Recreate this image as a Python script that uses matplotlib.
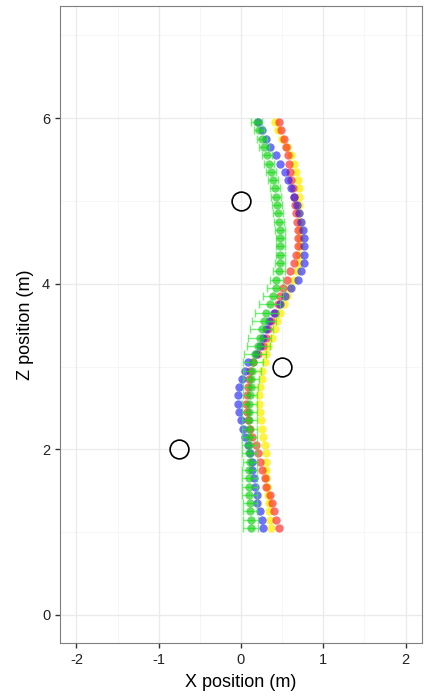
import matplotlib
matplotlib.use("Agg")
import matplotlib.pyplot as plt
import numpy as np

# ── Data ──
z_pos = [1.05, 1.15, 1.25, 1.35, 1.45, 1.55, 1.65, 1.75, 1.85, 1.95,
         2.05, 2.15, 2.25, 2.35, 2.45, 2.55, 2.65, 2.75, 2.85, 2.95,
         3.05, 3.15, 3.25, 3.35, 3.45, 3.55, 3.65, 3.75, 3.85, 3.95,
         4.05, 4.15, 4.25, 4.35, 4.45, 4.55, 4.65, 4.75, 4.85, 4.95,
         5.05, 5.15, 5.25, 5.35, 5.45, 5.55, 5.65, 5.75, 5.85, 5.95]

x_green = [0.12, 0.12, 0.11, 0.11, 0.10, 0.10, 0.10, 0.10, 0.11, 0.10,
           0.10, 0.10, 0.10, 0.10, 0.10, 0.10, 0.11, 0.12, 0.12, 0.13,
           0.15, 0.17, 0.21, 0.23, 0.25, 0.28, 0.31, 0.35, 0.39, 0.42,
           0.43, 0.46, 0.47, 0.48, 0.48, 0.48, 0.47, 0.46, 0.45, 0.44,
           0.43, 0.41, 0.39, 0.36, 0.34, 0.32, 0.28, 0.26, 0.22, 0.19]
err_green = [0.09, 0.09, 0.09, 0.09, 0.09, 0.09, 0.09, 0.09, 0.09, 0.09,
             0.09, 0.09, 0.09, 0.09, 0.09, 0.09, 0.09, 0.09, 0.10, 0.11,
             0.12, 0.13, 0.14, 0.14, 0.14, 0.14, 0.14, 0.13, 0.12, 0.10,
             0.08, 0.07, 0.06, 0.06, 0.06, 0.06, 0.06, 0.06, 0.06, 0.06,
             0.06, 0.06, 0.06, 0.06, 0.06, 0.06, 0.06, 0.06, 0.06, 0.07]
x_blue = [0.27, 0.25, 0.23, 0.20, 0.19, 0.17, 0.16, 0.14, 0.13, 0.11,
          0.08, 0.05, 0.02, 0.00, -0.02, -0.04, -0.04, -0.02, 0.01, 0.05,
          0.09, 0.18, 0.23, 0.27, 0.30, 0.34, 0.40, 0.47, 0.54, 0.61,
          0.69, 0.73, 0.76, 0.77, 0.77, 0.76, 0.75, 0.73, 0.70, 0.68,
          0.65, 0.61, 0.57, 0.53, 0.48, 0.42, 0.35, 0.30, 0.25, 0.21]
x_red = [0.46, 0.43, 0.40, 0.38, 0.35, 0.31, 0.29, 0.25, 0.23, 0.21,
         0.18, 0.14, 0.11, 0.08, 0.07, 0.06, 0.07, 0.09, 0.10, 0.11,
         0.15, 0.21, 0.27, 0.30, 0.33, 0.37, 0.41, 0.45, 0.47, 0.51,
         0.56, 0.60, 0.64, 0.67, 0.69, 0.69, 0.69, 0.68, 0.67, 0.66,
         0.64, 0.63, 0.61, 0.60, 0.58, 0.57, 0.55, 0.52, 0.49, 0.46]
x_yellow = [0.37, 0.35, 0.34, 0.34, 0.33, 0.32, 0.31, 0.31, 0.31, 0.30,
            0.29, 0.27, 0.25, 0.24, 0.23, 0.22, 0.22, 0.23, 0.25, 0.26,
            0.29, 0.31, 0.33, 0.38, 0.41, 0.44, 0.48, 0.52, 0.56, 0.59,
            0.65, 0.68, 0.70, 0.71, 0.72, 0.72, 0.72, 0.72, 0.71, 0.71,
            0.71, 0.70, 0.69, 0.67, 0.64, 0.61, 0.56, 0.50, 0.45, 0.41]

# obstacles
obs_x = [0.0, 0.5, -0.75]
obs_z = [5.0, 3.0, 2.0]

# ── Figure ──
plt.rcParams['font.family'] = ['Liberation Sans', 'DejaVu Sans']
plt.rcParams['axes.unicode_minus'] = False
fig = plt.figure(figsize=(4.28, 6.96), dpi=100)
ax = fig.add_axes([0.140, 0.076, 0.846, 0.915])

# grid (ggplot theme_bw look)
for v in [-1.5, -0.5, 0.5, 1.5]:
    ax.axvline(v, color='#F5F5F5', linewidth=0.6, zorder=0)
for v in [1, 3, 5, 7]:
    ax.axhline(v, color='#F5F5F5', linewidth=0.6, zorder=0)
for v in [-2, -1, 0, 1, 2]:
    ax.axvline(v, color='#EBEBEB', linewidth=1.0, zorder=0)
for v in [0, 2, 4, 6]:
    ax.axhline(v, color='#EBEBEB', linewidth=1.0, zorder=0)

ms = 36
ax.scatter(x_yellow, z_pos, s=ms, color='#FFF000', alpha=0.75, linewidths=0, zorder=2)
ax.scatter(x_red, z_pos, s=ms, color='#FF1A1A', alpha=0.62, linewidths=0, zorder=3)
ax.scatter(x_blue, z_pos, s=ms, color='#1A1AFF', alpha=0.62, linewidths=0, zorder=4)
ax.errorbar(x_green, z_pos, xerr=err_green, fmt='none', ecolor='#33EE33',
            alpha=0.7, elinewidth=1.0, capsize=3, capthick=1.0, zorder=5)
ax.scatter(x_green, z_pos, s=ms, color='#10D010', alpha=0.65, linewidths=0, zorder=6)

ax.plot(obs_x, obs_z, 'o', markersize=13.5, markerfacecolor='none',
        markeredgecolor='black', markeredgewidth=1.2, zorder=7)

ax.set_xlim(-2.2, 2.2)
ax.set_ylim(-0.34, 7.35)
ax.set_xticks([-2, -1, 0, 1, 2])
ax.set_yticks([0, 2, 4, 6])
ax.tick_params(direction='out', length=3.5, width=1.0, color='#333333',
               labelsize=10.5, labelcolor='#222222')
for s in ax.spines.values():
    s.set_color('#7F7F7F')
    s.set_linewidth(0.8)

ax.set_xlabel("X position (m)", fontsize=13, labelpad=5)
ax.set_ylabel("Z position (m)", fontsize=13, labelpad=6)

fig.savefig("out.png", dpi=100)
